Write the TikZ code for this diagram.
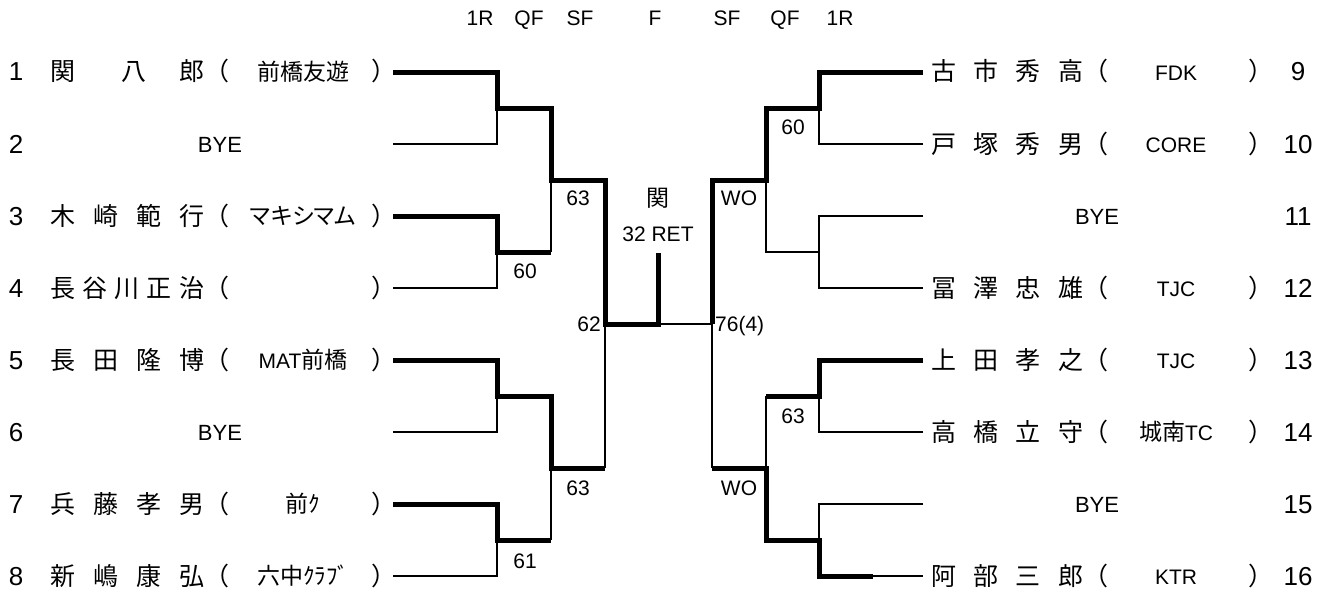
\documentclass[tikz,border=0pt]{standalone}
\usepackage{fontspec}
\setmainfont{Liberation Sans}
\newfontfamily\jp{Noto Sans CJK JP}
\newfontfamily\jpp[RawFeature=+palt]{Noto Sans CJK JP}
\newcommand\J[1]{{\jpp\fontsize{23}{27}\selectfont #1}}
\tikzset{
  thin/.style={line width=1.5pt},
  bold/.style={line width=5pt, line join=miter},
  num/.style={font=\fontsize{26}{30}\selectfont, inner sep=0pt, anchor=base, yshift=-9pt},
  nm/.style={font=\jp\fontsize{25}{30}\selectfont, inner sep=0pt, anchor=base west, yshift=-9pt},
  club/.style={font=\fontsize{21}{25}\selectfont, inner sep=0pt, anchor=base, yshift=-8pt},
  bye/.style={font=\fontsize{22}{26}\selectfont, inner sep=0pt, anchor=base, yshift=-8pt},
  lab/.style={font=\fontsize{21}{25}\selectfont, inner sep=0pt, anchor=base, yshift=-7.5pt},
  hdr/.style={font=\fontsize{21}{25}\selectfont, inner sep=0pt, anchor=base, yshift=-7.5pt},
}
\newcommand\Lrow[5]{%
  \node[num] (ln#1) at (16,#2) {#3};
  \node[nm] (lname#1) at (50,#2) {\makebox[154pt]{#4}};
  \node[nm] (lop#1) at (204,#2) {（};
  \node[club] (lclub#1) at (303,#2) {#5};
  \node[nm] (lcp#1) at (371,#2) {）};
}
\newcommand\Rrow[5]{%
  \node[num] (rn#1) at (1298,#2) {#3};
  \node[nm] (rname#1) at (931,#2) {\makebox[152pt]{#4}};
  \node[nm] (rop#1) at (1083,#2) {（};
  \node[club] (rclub#1) at (1176,#2) {#5};
  \node[nm] (rcp#1) at (1248,#2) {）};
}
\begin{document}
\begin{tikzpicture}[x=1pt,y=-1pt]
\useasboundingbox[fill=white] (0,0) rectangle (1329,594);
% header
\node[hdr] (h1) at (480,18) {1R};
\node[hdr] (h2) at (529,18) {QF};
\node[hdr] (h3) at (580,18) {SF};
\node[hdr] (h4) at (655,18) {F};
\node[hdr] (h5) at (727,18) {SF};
\node[hdr] (h6) at (785,18) {QF};
\node[hdr] (h7) at (840,18) {1R};
% left entries
\Lrow{1}{72}{1}{関\hspace{\stretch{1.4}}八\hspace{\stretch{1}}郎}{\J{前橋友遊}}
\node[num] (ln2) at (16,144) {2};
\node[bye] (lbye2) at (220,144) {BYE};
\Lrow{3}{216}{3}{木\hfill 崎\hfill 範\hfill 行}{\J{マキシマム}}
\Lrow{4}{288}{4}{長\hfill 谷\hfill 川\hfill 正\hfill 治}{}
\Lrow{5}{360}{5}{長\hfill 田\hfill 隆\hfill 博}{MAT\J{前橋}}
\node[num] (ln6) at (16,432) {6};
\node[bye] (lbye6) at (220,432) {BYE};
\Lrow{7}{504}{7}{兵\hfill 藤\hfill 孝\hfill 男}{\J{前ｸ}}
\Lrow{8}{576}{8}{新\hfill 嶋\hfill 康\hfill 弘}{\J{六中ｸﾗﾌﾞ}}
% right entries
\Rrow{9}{72}{9}{古\hfill 市\hfill 秀\hfill 高}{FDK}
\Rrow{10}{144}{10}{戸\hfill 塚\hfill 秀\hfill 男}{CORE}
\node[num] (rn11) at (1298,216) {11};
\node[bye] (rbye11) at (1097,216) {BYE};
\Rrow{12}{288}{12}{冨\hfill 澤\hfill 忠\hfill 雄}{TJC}
\Rrow{13}{360}{13}{上\hfill 田\hfill 孝\hfill 之}{TJC}
\Rrow{14}{432}{14}{高\hfill 橋\hfill 立\hfill 守}{\J{城南}TC}
\node[num] (rn15) at (1298,504) {15};
\node[bye] (rbye15) at (1097,504) {BYE};
\Rrow{16}{576}{16}{阿\hfill 部\hfill 三\hfill 郎}{KTR}
% bracket coordinates
\foreach \i in {1,...,8} {
  \coordinate (La\i) at (393,{72*\i});
  \coordinate (Lb\i) at (497,{72*\i});
}
\foreach \i in {9,...,16} {
  \coordinate (Ra\i) at (819,{72*(\i-8)});
  \coordinate (Rb\i) at (923,{72*(\i-8)});
}
\coordinate (LJ1) at (497,108); \coordinate (LJ2) at (497,252);
\coordinate (LJ3) at (497,396); \coordinate (LJ4) at (497,540);
\coordinate (LQ1) at (551,108); \coordinate (LQ2) at (551,252);
\coordinate (LQ3) at (551,396); \coordinate (LQ4) at (551,540);
\coordinate (LQA) at (551,180); \coordinate (LQB) at (551,468);
\coordinate (LSA) at (605,180); \coordinate (LSB) at (605,468);
\coordinate (LS) at (605,324);
\coordinate (FL) at (658,324); \coordinate (FT) at (658,253);
\coordinate (RS) at (712,324);
\coordinate (RSA) at (712,180); \coordinate (RSB) at (712,468);
\coordinate (RQA) at (766,180); \coordinate (RQB) at (766,468);
\coordinate (RQ1) at (766,108); \coordinate (RQ2) at (766,252);
\coordinate (RQ3) at (766,396); \coordinate (RQ4) at (766,540);
\coordinate (RJ1) at (819,108); \coordinate (RJ2) at (819,252);
\coordinate (RJ3) at (819,396); \coordinate (RJ4) at (819,540);
\coordinate (R16m) at (873,576);
% thin lines
\draw[thin] (La2) -- (Lb2) -- (LJ1);
\draw[thin] (La4) -- (Lb4) -- (LJ2);
\draw[thin] (La6) -- (Lb6) -- (LJ3);
\draw[thin] (La8) -- (Lb8) -- (LJ4);
\draw[thin] (LQA) -- (LQ2);
\draw[thin] (LQB) -- (LQ4);
\draw[thin] (LS) -- (LSB);
\draw[thin] (FL) -- (RS);
\draw[thin] (RS) -- (RSB);
\draw[thin] (Rb10) -- (Ra10) -- (RJ1);
\draw[thin] (RQA) -- (RQ2) -- (RJ2);
\draw[thin] (Rb11) -- (Ra11) -- (Ra12) -- (Rb12);
\draw[thin] (Rb14) -- (Ra14) -- (RJ3);
\draw[thin] (RQ3) -- (RQB);
\draw[thin] (Rb15) -- (Ra15) -- (RJ4);
\draw[thin] (R16m) -- (Rb16);
% bold (winner) lines
\draw[bold] (La1) -- (Lb1) -- (LJ1) -- (LQ1) -- (LQA) -- (LSA) -- (LS) -- (FL) -- (FT);
\draw[bold] (La3) -- (Lb3) -- (LJ2) -- (LQ2);
\draw[bold] (La5) -- (Lb5) -- (LJ3) -- (LQ3) -- (LQB) -- (LSB);
\draw[bold] (La7) -- (Lb7) -- (LJ4) -- (LQ4);
\draw[bold] (Rb9) -- (Ra9) -- (RJ1) -- (RQ1) -- (RQA) -- (RSA) -- (RS);
\draw[bold] (Rb13) -- (Ra13) -- (RJ3) -- (RQ3);
\draw[bold] (R16m) -- (Ra16) -- (RJ4) -- (RQ4) -- (RQB) -- (RSB);
% scores
\node[lab] (s34) at (525,271) {60};
\node[lab] (sqa) at (578,198) {63};
\node[lab, anchor=base east] (ssl) at (601,324) {62};
\node[lab] (s78) at (525,561) {61};
\node[lab] (sqb) at (578,488) {63};
\node[font=\jp\fontsize{23}{27}\selectfont, inner sep=0pt] (champ) at (658,198) {関};
\node[lab] (sfin) at (658,234) {32 RET};
\node[lab] (rqa) at (739,198) {WO};
\node[lab] (rqb) at (739,488) {WO};
\node[lab, anchor=base west] (rsf) at (715,324) {76(4)};
\node[lab] (r910) at (793,127) {60};
\node[lab] (r1314) at (793,416) {63};
\end{tikzpicture}
\end{document}
